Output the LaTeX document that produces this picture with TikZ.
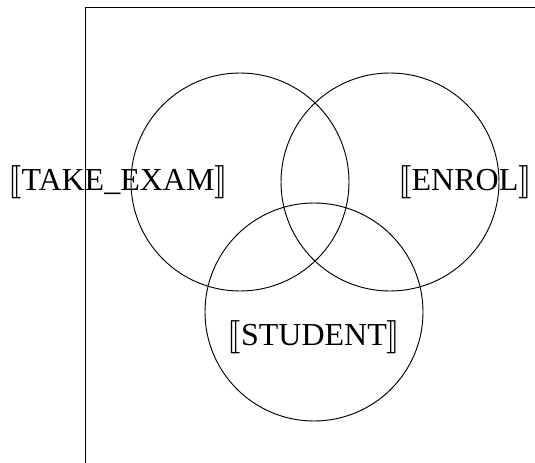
\documentclass[tikz,border=0pt]{standalone}
\usepackage{fontspec}
\usepackage{stmaryrd}
\setmainfont{Liberation Serif}
\usetikzlibrary{positioning}

\tikzset{set/.style={line width=.7pt},
  setname/.style={inner sep=0pt,font=\fontsize{24}{28}\selectfont}}

\begin{document}
\begin{tikzpicture}[x=.75pt,y=-.75pt,line join=round]
    \useasboundingbox (0,0) rectangle (535,463);
    \clip (0,0) rectangle (535,463);
    % Universe frame; its right and bottom sides run off the page.
    \draw[line width=.75pt] (85,8) rectangle (560,490);

    % Three sets of equal radius, centres on an equilateral triangle.
    \draw[set] (240,182) circle[radius=81.75pt];
    \draw[set] (390,182) circle[radius=81.75pt];
    \draw[set] (314,312) circle[radius=81.75pt];

    \node[setname] (takeexam) at (118,182) {$\llbracket$TAKE\_EXAM$\rrbracket$};
    \node[setname] (enrol) at (465,182) {$\llbracket$ENROL$\rrbracket$};
    \node[setname] (student) at (314,337) {$\llbracket$STUDENT$\rrbracket$};
  \end{tikzpicture}
\end{document}
